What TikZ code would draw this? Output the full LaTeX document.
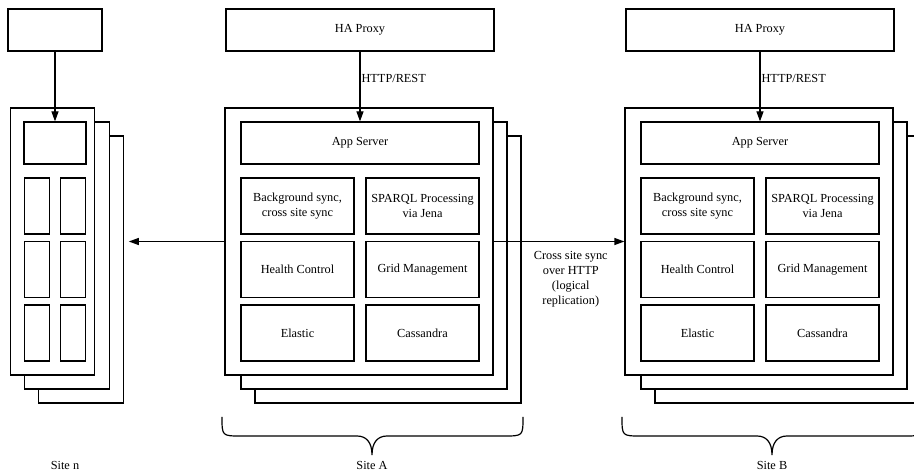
\documentclass[tikz,border=0pt]{standalone}
\usepackage{fontspec}
\setmainfont{Liberation Serif}
\usetikzlibrary{arrows.meta}

\tikzset{
  box/.style={draw,fill=white,line width=1.2pt,inner sep=0pt,align=center},
  cell/.style={box,minimum width=113,minimum height=56},
  tiny/.style={box,minimum width=25,minimum height=56},
  conn/.style={-{Triangle[length=10pt,width=7pt]},line width=1.2pt},
}

\begin{document}
\begin{tikzpicture}[x=1pt,y=-1pt,font=\fontsize{12.3}{15}\selectfont]
\useasboundingbox (0,0) rectangle (914,470);

% site n
\node[box,minimum width=94,minimum height=42] (proxyN) at (55,30) {};
\node[box,minimum width=85,minimum height=267] (stackN3) at (80.7,269.5) {};
\node[box,minimum width=85,minimum height=267] (stackN2) at (66.7,255.5) {};
\node[box,minimum width=84,minimum height=267] (siteN) at (52.7,241.5) {};
\node[box,minimum width=62,minimum height=42] (appN) at (55,143) {};
\node[tiny] (nA1) at (36.7,206) {};
\node[tiny] (nB1) at (73,206) {};
\node[tiny] (nA2) at (36.7,269.5) {};
\node[tiny] (nB2) at (73,269.5) {};
\node[tiny] (nA3) at (36.7,333) {};
\node[tiny] (nB3) at (73,333) {};
\draw[conn] (proxyN) -- (appN);

% site A
\node[box,minimum width=268,minimum height=42] (proxyA) at (360,30) {HA Proxy};
\node[box,minimum width=266,minimum height=267] (stackA3) at (388,269.5) {};
\node[box,minimum width=266,minimum height=267] (stackA2) at (374,255.5) {};
\node[box,minimum width=268,minimum height=267] (siteA) at (359,241.5) {};
\node[box,minimum width=238,minimum height=42] (appA) at (360,143) {App Server};
\node[cell] (syncA) at (297.5,206) {Background sync,\\cross site sync};
\node[cell] (sparqlA) at (422.5,206) {SPARQL Processing\\via Jena};
\node[cell] (healthA) at (297.5,269.5) {Health Control};
\node[cell] (gridA) at (422.5,269.5) {Grid Management};
\node[cell] (elasticA) at (297.5,333) {Elastic};
\node[cell] (cassA) at (422.5,333) {Cassandra};
\draw[conn] (proxyA) -- node[right,inner sep=1pt,pos=0.38] {HTTP/REST} (appA);

% site B
\node[box,minimum width=268,minimum height=42] (proxyB) at (760,30) {HA Proxy};
\node[box,minimum width=266,minimum height=267] (stackB3) at (788,269.5) {};
\node[box,minimum width=266,minimum height=267] (stackB2) at (774,255.5) {};
\node[box,minimum width=268,minimum height=267] (siteB) at (759,241.5) {};
\node[box,minimum width=238,minimum height=42] (appB) at (760,143) {App Server};
\node[cell] (syncB) at (697.5,206) {Background sync,\\cross site sync};
\node[cell] (sparqlB) at (822.5,206) {SPARQL Processing\\via Jena};
\node[cell] (healthB) at (697.5,269.5) {Health Control};
\node[cell] (gridB) at (822.5,269.5) {Grid Management};
\node[cell] (elasticB) at (697.5,333) {Elastic};
\node[cell] (cassB) at (822.5,333) {Cassandra};
\draw[conn] (proxyB) -- node[right,inner sep=1pt,pos=0.38] {HTTP/REST} (appB);

% sync between sites
\draw[conn] (siteA) -- node[below=6pt,pos=0.59,align=center] {Cross site sync\\over HTTP\\(logical\\replication)} (siteB);
\draw[conn,shorten >=5pt] (siteA.west) -- (siteA.west -| stackN3.east);

% braces
\draw[line width=1.2pt] (222,417) .. controls (222,436) .. (241,436) -- (357,436)
  .. controls (366,436) and (372,442) .. (372,455) .. controls (372,442) and (378,436) .. (387,436) -- (504,436)
  .. controls (523,436) .. (523,417);
\draw[line width=1.2pt] (622,417) .. controls (622,436) .. (641,436) -- (757,436)
  .. controls (766,436) and (772,442) .. (772,455) .. controls (772,442) and (778,436) .. (787,436) -- (904,436)
  .. controls (923,436) .. (923,417);

\node (labelN) at (65,465) {Site n};
\node (labelA) at (372,465) {Site A};
\node (labelB) at (772,465) {Site B};

\end{tikzpicture}
\end{document}
